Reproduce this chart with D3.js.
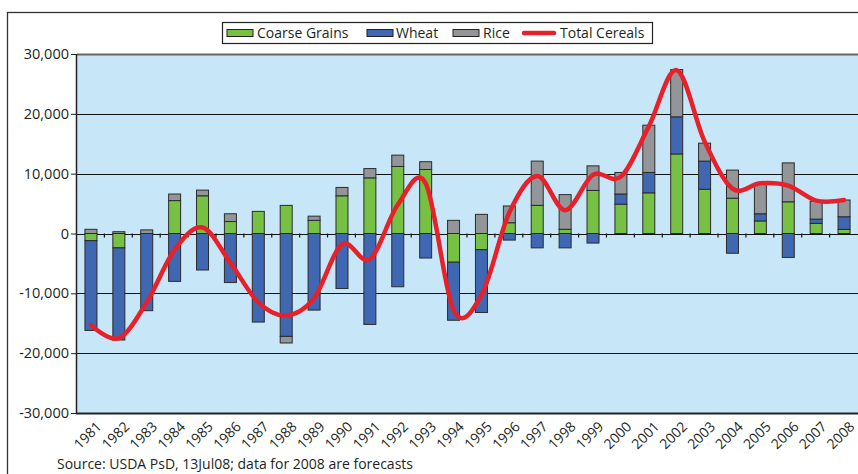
<!DOCTYPE html>
<meta charset="utf-8" />
<html>
<head>
<script src="https://d3js.org/d3.v7.min.js"></script>
<style>
  body { margin: 0; background: #fff; }
  text { font-family: "Open Sans", sans-serif; fill: #231f20; }
</style>
</head>
<body>
<script type="text/javascript">
// values in thousand tonnes
var years = ["1981","1982","1983","1984","1985","1986","1987","1988","1989","1990",
             "1991","1992","1993","1994","1995","1996","1997","1998","1999","2000",
             "2001","2002","2003","2004","2005","2006","2007","2008"];
var coarse = [-1200,-2400,0,5500,6300,2000,3700,4700,2200,6300,
              9300,11200,10700,-4800,-2700,1800,4700,700,7200,4900,
              6800,13300,7400,5900,2100,5300,1700,700];
var wheat = [-15000,-15400,-12900,-8000,-6100,-8200,-14800,-17200,-12800,-9200,
             -15200,-8900,-4100,-9700,-10500,-1100,-2400,-2400,-1600,1700,
             3400,6200,4700,-3300,1200,-4000,700,2100];
var rice = [700,300,600,1100,950,1300,0,-1100,700,1400,
            1550,1900,1300,2200,3200,2800,7400,5800,4100,3600,
            7900,7900,3000,4700,5000,6500,3000,2800];
var total = [-15300,-17500,-11500,-2700,1000,-4900,-11500,-13700,-10800,-1800,
             -4300,4800,8400,-12800,-10300,3500,9600,3900,9800,9500,
             17900,27300,15400,7500,8400,8000,5500,5600];
var yTicks = [-30000,-20000,-10000,0,10000,20000,30000];
var seriesNames = ["Coarse Grains","Wheat","Rice"];
var colors = {"Coarse Grains": "#76c043", "Wheat": "#3f67b2", "Rice": "#939598"};

var W = 858, H = 474;
var plot = {left: 77, top: 54, right: 858, bottom: 413};

var svg = d3.select('body').append('svg')
    .attr('width', W)
    .attr('height', H);

// outer frame
svg.append('rect')
    .attr('x', 7.5).attr('y', 12.5)
    .attr('width', W).attr('height', H)
    .attr('fill', 'none')
    .attr('stroke', '#333')
    .attr('stroke-width', 1.3);

var x = d3.scaleBand()
    .domain(years)
    .range([plot.left, plot.right])
    .paddingInner(0.57)
    .paddingOuter(0.285);
var y = d3.scaleLinear()
    .domain([-30000, 30000])
    .range([plot.bottom, plot.top]);

// plot background
svg.append('rect')
    .attr('x', plot.left).attr('y', plot.top)
    .attr('width', plot.right - plot.left).attr('height', plot.bottom - plot.top)
    .attr('fill', '#c7e7f8');

// gridlines
svg.append('g')
    .selectAll('line')
    .data(yTicks)
    .enter()
    .append('line')
    .attr('x1', plot.left).attr('x2', plot.right)
    .attr('y1', function(d) { return Math.round(y(d)) + 0.5; })
    .attr('y2', function(d) { return Math.round(y(d)) + 0.5; })
    .attr('stroke', function(d) { return d == 30000 ? '#666' : '#111'; })
    .attr('stroke-width', function(d) { return d == 30000 ? 2 : 1; });

// stacked bars
var rows = years.map(function(yr, i) {
  return {year: yr, "Coarse Grains": coarse[i], "Wheat": wheat[i], "Rice": rice[i]};
});
var stacked = d3.stack()
    .keys(seriesNames)
    .offset(d3.stackOffsetDiverging)(rows);

svg.append('g')
    .selectAll('g')
    .data(stacked)
    .enter()
    .append('g')
    .attr('fill', function(d) { return colors[d.key]; })
    .selectAll('rect')
    .data(function(d) { return d; })
    .enter()
    .append('rect')
    .attr('x', function(d) { return x(d.data.year); })
    .attr('width', x.bandwidth())
    .attr('y', function(d) { return y(Math.max(d[0], d[1])); })
    .attr('height', function(d) { return Math.abs(y(d[0]) - y(d[1])); })
    .attr('stroke', '#2b2b2b')
    .attr('stroke-width', 1)
    .style('display', function(d) { return d[0] == d[1] ? 'none' : null; });

// small category ticks on zero line
var step = x.step();
svg.append('g')
    .selectAll('line')
    .data(years.slice(1))
    .enter()
    .append('line')
    .attr('x1', function(d) { return x(d) - step * 0.285 - 0.5; })
    .attr('x2', function(d) { return x(d) - step * 0.285 - 0.5; })
    .attr('y1', y(0)).attr('y2', y(0) + 4)
    .attr('stroke', '#111')
    .attr('stroke-width', 1.2);

// total cereals line (excel-like smoothing)
var line = d3.line()
    .x(function(d, i) { return x(years[i]) + x.bandwidth() / 2; })
    .y(function(d) { return y(d); })
    .curve(d3.curveCardinal.tension(0));
svg.append('path')
    .attr('d', line(total))
    .attr('fill', 'none')
    .attr('stroke', '#e8202a')
    .attr('stroke-width', 4.5)
    .attr('stroke-linecap', 'round');

// plot border (left and bottom)
svg.append('line')
    .attr('x1', plot.left - 0.5).attr('x2', plot.left - 0.5)
    .attr('y1', plot.top).attr('y2', plot.bottom + 1)
    .attr('stroke', '#222').attr('stroke-width', 1.5);
svg.append('line')
    .attr('x1', plot.left - 1).attr('x2', plot.right)
    .attr('y1', plot.bottom + 0.5).attr('y2', plot.bottom + 0.5)
    .attr('stroke', '#222').attr('stroke-width', 2);

// y axis
var fmt = d3.formatLocale({decimal: ".", thousands: ",", grouping: [3], currency: ["", ""], minus: "-"}).format(",");
var yAxis = svg.append('g')
    .attr('transform', 'translate(' + (plot.left - 1) + ',0)')
    .call(d3.axisLeft(y).tickValues(yTicks).tickFormat(fmt).tickSize(5).tickPadding(2));
yAxis.select('.domain').remove();
yAxis.selectAll('line').attr('stroke', '#222');
yAxis.selectAll('text')
    .style('font-family', '"Open Sans", sans-serif')
    .style('font-size', '14.5px')
    .attr('fill', '#231f20');

// x labels, rotated
svg.append('g')
    .selectAll('text')
    .data(years)
    .enter()
    .append('text')
    .attr('transform', function(d) {
      return 'translate(' + (x(d) + x.bandwidth() / 2 + 8) + ',' + (plot.bottom + 11) + ') rotate(-45)';
    })
    .attr('text-anchor', 'end')
    .attr('dy', '0.35em')
    .style('font-size', '14px')
    .text(function(d) { return d; });

// source note
svg.append('text')
    .attr('x', 57).attr('y', 469)
    .style('font-size', '14px')
    .text('Source: USDA PsD, 13Jul08; data for 2008 are forecasts');

// legend
var legend = svg.append('g').attr('transform', 'translate(222,22)');
legend.append('rect')
    .attr('x', 0.5).attr('y', 0.5)
    .attr('width', 430).attr('height', 21)
    .attr('fill', '#fff')
    .attr('stroke', '#222')
    .attr('stroke-width', 1.2);
var legendItems = [
  {name: "Coarse Grains", sx: 5, tx: 35, type: 'rect'},
  {name: "Wheat", sx: 145, tx: 174, type: 'rect'},
  {name: "Rice", sx: 231, tx: 261, type: 'rect'},
  {name: "Total Cereals", sx: 302, tx: 338, type: 'line'}
];
legendItems.forEach(function(it) {
  if (it.type == 'rect') {
    legend.append('rect')
        .attr('x', it.sx).attr('y', 7.5)
        .attr('width', 26).attr('height', 7)
        .attr('fill', colors[it.name])
        .attr('stroke', '#222').attr('stroke-width', 1);
  } else {
    legend.append('line')
        .attr('x1', it.sx).attr('x2', it.sx + 30)
        .attr('y1', 11).attr('y2', 11)
        .attr('stroke', '#e8202a').attr('stroke-width', 4.5)
        .attr('stroke-linecap', 'round');
  }
  legend.append('text')
      .attr('x', it.tx).attr('y', 16)
      .style('font-size', '14px')
      .text(it.name);
});
</script>
</body>
</html>
